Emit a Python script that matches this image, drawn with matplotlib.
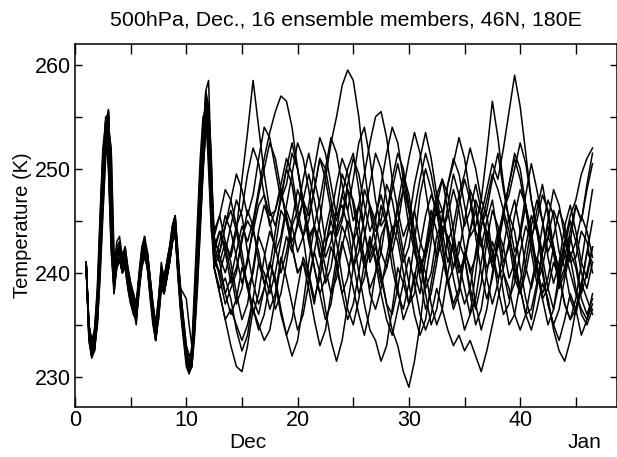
import numpy as np
import matplotlib
matplotlib.use("Agg")
import matplotlib.pyplot as plt
from matplotlib.ticker import MultipleLocator
from matplotlib.transforms import blended_transform_factory

plt.rcParams['font.family'] = ['Liberation Sans', 'DejaVu Sans']

# time axes: early part 6-hourly (day 1.0 .. 12.25), later 12-hourly (day 12.5 .. 46.5)
early_days = np.arange(1.0, 12.5, 0.25)
spread_days = np.arange(12.5, 47.0, 0.5)

# ---- early phase, members still close together ----
e01 = [241, 234, 232, 233.5, 237, 243, 249.5, 254.5, 255.5, 247, 239.5, 242,
       242.5, 241, 242, 240, 238.5, 237.5, 236.5, 239.5, 242, 243, 241.5, 239,
       236.5, 234.5, 237, 240, 239, 240.5, 242, 244, 245, 241, 237.5, 235,
       232.5, 231, 232, 237, 242, 247.5, 252.5, 257, 255.5, 248]
e02 = [240.5, 235, 233, 234, 237.5, 244, 251, 254, 251, 243, 238.5, 240.5,
       241, 242, 240.5, 238.5, 237, 236, 235.5, 238, 240.5, 242, 242, 239.5,
       237, 235, 235.5, 238.5, 239.5, 241, 242.5, 244.5, 245.5, 242, 238, 235,
       231.5, 230.5, 231, 235, 240, 245.5, 251, 257.5, 258.5, 250]
e03 = [241, 233.5, 231.8, 232.5, 235.5, 242.5, 249, 254, 255.7, 248, 238, 241,
       243, 241.5, 242, 239, 237.5, 236.5, 235, 238.5, 242, 243.5, 240.5, 237.5,
       235, 233.5, 236, 239, 238, 239.5, 241, 243, 244, 239.5, 236, 233.5,
       231, 230.3, 232, 237, 242.5, 248, 253, 256.5, 253, 246]
e04 = [240.5, 235, 233.5, 233.5, 235, 240, 246, 251.5, 254.5, 251.5, 241, 242.5,
       241.5, 240, 241, 240, 238.5, 237.5, 236.5, 239.5, 241, 242, 240.5, 238,
       236, 234, 236.5, 239.5, 238.5, 240, 241.5, 243, 244, 240, 236.5, 234,
       232, 231.5, 232.5, 236.5, 241, 246, 250.5, 254.5, 253.5, 246.5]
e05 = [241, 234.5, 232.5, 232.5, 235, 240.5, 247.5, 253, 255, 246.5, 239, 241.5,
       242.5, 240.5, 241, 239.5, 237.5, 236, 235.5, 238.5, 241.5, 242.5, 241, 238.5,
       235.5, 233.5, 236, 239, 238, 239.5, 241, 243, 244.5, 240.5, 237, 234.5,
       231.5, 230.5, 232, 238, 244, 250, 254.5, 256.5, 251, 244.5]
e06 = [241, 234, 232.5, 233.5, 236.5, 242.5, 249, 254, 254.5, 245.5, 240, 243,
       243.5, 241.5, 242.5, 240.5, 239, 238, 237, 240, 242.5, 243.5, 242, 239.5,
       237, 235, 237.5, 240.5, 239.5, 241, 242.5, 244.5, 245.5, 241.5, 238, 235.5,
       233, 232, 232.5, 237.5, 242, 247, 252, 256.5, 255, 247.5]
e07 = [240.5, 234.5, 233, 234.5, 238, 245, 251.5, 253.5, 250, 242.5, 238, 240.5,
       241.5, 240, 241, 239, 237.5, 236.5, 236, 238.5, 241, 242, 240.5, 238,
       236, 234.5, 237, 241, 239.5, 240.5, 241.5, 243, 243.5, 241, 238.5, 238,
       237.5, 235, 233, 236, 240, 245, 250, 253.5, 252.5, 246]
e08 = [241, 235, 233, 233, 236, 242, 248.5, 253.5, 254.5, 246.5, 239.5, 241.5,
       242, 240.5, 241.5, 239.5, 238, 237, 236, 239, 241.5, 242.5, 241, 238.5,
       236, 234, 236.5, 239.5, 238.5, 240, 241.5, 243.5, 244.5, 240.5, 237, 234.5,
       232, 230.8, 231.5, 236, 241, 246.5, 251.5, 256, 254.5, 247]
e09 = [241, 234, 232, 233, 236.5, 243, 250, 255, 254.5, 245, 238.5, 242,
       242, 241, 242, 240, 238, 237, 236.5, 239.5, 242, 243, 241.5, 239,
       236.5, 234.5, 237, 240, 239, 240.5, 242, 244.5, 245.5, 241, 237, 234,
       231.5, 230.3, 231, 235.5, 240.5, 246, 251.5, 257, 256, 248.5]
e10 = [240.5, 234.5, 233, 233, 235, 239.5, 245.5, 251, 254, 252, 242, 241,
       241.5, 240, 240.5, 238.5, 237, 236.5, 236, 238.5, 240.5, 241.5, 240.5, 238,
       235.5, 233.5, 235.5, 238.5, 238, 239.5, 241, 243, 244, 240, 236.5, 234,
       232, 231, 231.5, 234.5, 239, 244.5, 250, 254.5, 255.5, 250.5]
e11 = [241, 233.5, 232, 233.5, 237, 243.5, 249.5, 254, 255.5, 247.5, 240, 242.5,
       243, 241.5, 242.5, 240.5, 239, 238, 237, 239.5, 242, 243, 242, 239.5,
       237, 235, 237.5, 240.5, 239.5, 241, 242.5, 244, 245, 241.5, 238, 235.5,
       233, 232, 232.5, 237, 242, 247.5, 252.5, 256, 255, 248]
e12 = [241, 235, 233.5, 234.5, 238.5, 245.5, 252, 254.5, 250.5, 242, 238.5, 240.5,
       241.5, 240, 241, 239, 237.5, 236.5, 235.5, 238.5, 241, 242.5, 241.5, 239,
       236.5, 234.5, 236, 239, 239, 240.5, 242, 244, 245, 241, 237.5, 234.5,
       231.5, 230.5, 231, 235, 240, 245.5, 250.5, 255, 255.5, 248]
e13 = [240.5, 234, 232.5, 233, 236, 242, 249, 254, 255, 246, 239, 241.5,
       242, 240.5, 241.5, 239.5, 238, 237, 236, 239, 241.5, 242.5, 241, 238.5,
       236, 234, 236.5, 239.5, 238.5, 240, 241.5, 243.5, 244.5, 240.5, 237, 234.5,
       232, 231, 233, 239, 245, 251, 255, 255.5, 250, 244]
e14 = [241, 234.5, 233, 234, 237, 242.5, 248.5, 253, 253.5, 245.5, 238.5, 241,
       241.5, 240, 241, 239, 237.5, 236.5, 236, 238.5, 241, 242, 240.5, 238,
       235.5, 233.5, 236, 239, 238, 239.5, 241, 243, 244, 240, 236.5, 234,
       231.5, 230.5, 231, 234, 238.5, 244, 249.5, 254, 256, 251]
e15 = [241, 234, 232.5, 233, 236, 241.5, 248, 253.5, 255, 247, 240, 242,
       242.5, 241, 242, 240, 238.5, 237.5, 236.5, 239.5, 242, 243, 241.5, 239,
       236.5, 234.5, 237, 240, 239, 240.5, 242, 244, 245, 241, 237.5, 235,
       232.5, 231.5, 232, 236.5, 241, 246, 251, 255, 254, 246.5]
e16 = [240.5, 234.5, 232, 232.5, 235.5, 242, 249, 254.5, 255.5, 247, 239.5, 241.5,
       242, 240.5, 241.5, 239.5, 238, 237, 236, 239, 241.5, 242.5, 241, 238.5,
       236, 234, 236.5, 239.5, 238.5, 240, 241.5, 243.5, 244.5, 240.5, 237, 234.5,
       231.5, 230.5, 231.5, 236.5, 241.5, 247, 252.5, 257.5, 256, 248]

# ---- spread phase ----
s01 = [242, 239.5, 237, 238.5, 240, 243.5, 245, 244, 246.5, 247.5,
       245.5, 246, 248, 245, 242.5, 240, 241, 239.5, 242, 245,
       249, 252.5, 255, 258, 259.5, 258.5, 255, 250, 246, 243,
       239.5, 237, 236, 238.5, 242, 244.5, 246, 243, 241.5, 244,
       247.5, 249, 246, 242.5, 240, 241.5, 238.5, 236.5, 239, 243,
       246, 244.5, 241, 242.5, 245.5, 248, 246.5, 242, 239, 240.5,
       243.5, 242, 238.5, 240, 243, 246.5, 245, 248, 250.5]
s02 = [244, 245.5, 243, 241.5, 244, 249, 253.5, 258.5, 254, 249.5,
       246, 244.5, 247, 250, 248.5, 245, 243.5, 239.5, 237, 240.5,
       244, 246.5, 245, 247.5, 250, 251.5, 248, 244, 241.5, 243,
       246.5, 244.5, 240.5, 238, 236.5, 239, 243, 247.5, 250, 248,
       245.5, 246, 242.5, 239.5, 237, 234.5, 236, 240, 244.5, 246,
       249, 251.5, 248, 245, 247, 244, 240.5, 238.5, 241, 244.5,
       247, 245.5, 242, 240.5, 237.5, 236, 238.5, 242, 241]
s03 = [241.5, 240, 238, 239.5, 242, 244.5, 243, 245, 248, 251,
       253.5, 255.5, 257, 256.5, 254, 250, 246.5, 243.5, 244.5, 242,
       239, 240.5, 244, 247.5, 246, 249, 252.5, 254, 251, 247,
       244.5, 245.5, 249, 251.5, 250, 246.5, 243, 241.5, 238.5, 240,
       243.5, 245, 248.5, 250.5, 253, 251, 247.5, 244, 242.5, 245,
       247, 243.5, 240, 237.5, 239, 242, 244.5, 243, 246, 248.5,
       245.5, 242, 240.5, 243, 245.5, 247, 249.5, 251, 252]
s04 = [243, 242, 244.5, 246, 244, 241, 238.5, 240, 243.5, 242,
       239, 236.5, 238, 241, 244.5, 246, 249, 251.5, 249, 246.5,
       243, 244, 240.5, 238, 239.5, 243, 246.5, 244, 241, 242.5,
       240, 237, 234.5, 233, 230.5, 229, 231.5, 235, 239.5, 243,
       246.5, 249, 247.5, 244, 240.5, 241, 244, 246, 243, 239.5,
       237, 239, 242.5, 245.5, 244, 240.5, 237.5, 235.5, 238.5, 242,
       244.5, 242, 239, 240.5, 243.5, 241, 238, 240, 242.5]
s05 = [240.5, 238, 235.5, 233, 231, 230.5, 233, 236.5, 235, 233.5,
       234.5, 237.5, 241, 243.5, 242, 245, 247, 244, 240.5, 238,
       235.5, 237, 240.5, 243, 241, 238.5, 236, 234, 236.5, 240,
       243.5, 245, 242, 238.5, 235.5, 237, 240, 238, 241.5, 244.5,
       246, 243, 239.5, 237, 238.5, 242, 240.5, 237, 234.5, 236.5,
       240, 243.5, 246, 244, 240.5, 238, 240, 243, 241, 237.5,
       235, 236.5, 240, 243, 241.5, 238.5, 236, 235, 236.5]
s06 = [242.5, 244, 242, 239, 240.5, 243, 246, 244.5, 241, 239,
       240.5, 244, 247.5, 250, 252.5, 250, 247, 245.5, 248, 251,
       249, 246, 243.5, 245, 248, 247, 244.5, 241, 238.5, 240,
       242, 245.5, 248, 250.5, 248, 244.5, 242, 240, 242.5, 246,
       244, 241.5, 239, 236.5, 238, 241.5, 244, 247, 245.5, 248,
       250.5, 249, 252, 255.5, 259, 256, 251.5, 247, 244, 241.5,
       238.5, 236.5, 239, 242.5, 245, 243, 240, 238.5, 241]
s07 = [240.5, 238, 235.5, 236.5, 235, 233.5, 235, 237.5, 236, 238.5,
       241, 239, 236, 234, 235.5, 238.5, 241.5, 240, 237.5, 239.5,
       242.5, 245, 243, 239.5, 236.5, 235, 237.5, 241, 243.5, 241,
       238, 235.5, 234, 236.5, 239, 241.5, 239, 236, 234.5, 236,
       238.5, 236.5, 234.5, 233, 234, 232.5, 233.5, 232, 230.5, 232.5,
       235, 237.5, 240, 238.5, 236, 234.5, 236, 239, 241.5, 240,
       237, 235, 233.5, 235.5, 238, 236.5, 234, 235.5, 238]
s08 = [241, 243, 245.5, 244, 241.5, 239, 241, 244.5, 247.5, 250,
       252.5, 251, 248, 245.5, 243, 244.5, 247, 249.5, 247, 244,
       241.5, 243, 246, 249.5, 248, 245, 246.5, 249.5, 252.5, 255,
       255.5, 253, 249, 246, 243.5, 245, 248.5, 251, 253.5, 251,
       247.5, 244, 241, 243, 246.5, 249, 247, 243.5, 240, 237.5,
       239.5, 243, 245.5, 243, 239.5, 238, 241, 244.5, 247, 245,
       241.5, 239, 241, 244.5, 246.5, 244, 241, 239.5, 242.5]
s09 = [243.5, 241.5, 240, 242, 244.5, 242, 238.5, 236, 238, 241.5,
       244, 242.5, 240, 242, 245, 248, 246.5, 243, 240.5, 238,
       239.5, 242.5, 241, 238, 235.5, 237, 240, 243.5, 246.5, 245,
       242, 240.5, 243, 246, 248, 246, 242.5, 240, 242, 245,
       247.5, 246, 243, 244.5, 247.5, 249.5, 252, 250, 247, 251.5,
       256.5, 253, 248.5, 245, 242, 243.5, 246.5, 244, 240.5, 238,
       239.5, 242.5, 240, 237, 235.5, 237.5, 241, 244.5, 248]
s10 = [242, 244, 242.5, 240, 237, 238.5, 241.5, 244, 242, 239,
       236.5, 238, 241.5, 239.5, 237, 234.5, 236, 239, 242, 240,
       236.5, 233.5, 231.5, 233.5, 237, 240.5, 243.5, 241.5, 238, 236.5,
       238.5, 241.5, 244.5, 243, 240, 237, 238, 241.5, 240, 237,
       235, 236.5, 240, 243, 241, 238.5, 236, 237.5, 241, 244,
       242, 238.5, 236, 237, 240.5, 238.5, 236, 234.5, 236.5, 239,
       237.5, 234.5, 232.5, 231.5, 233.5, 236.5, 239, 237.5, 236]
s11 = [243.5, 245.5, 248, 247, 244.5, 246, 249.5, 252, 250.5, 247.5,
       244.5, 246, 248.5, 251, 249.5, 246, 243.5, 245, 248, 251,
       250, 247, 244, 245.5, 248.5, 251, 249.5, 246.5, 244, 245.5,
       247.5, 245, 242, 244.5, 248, 251, 253.5, 251.5, 248, 244.5,
       241.5, 243, 246.5, 249.5, 247.5, 244.5, 246, 248.5, 246, 243,
       240.5, 242.5, 246, 248.5, 251, 249, 246, 243.5, 245, 247.5,
       246, 242.5, 240, 241.5, 244, 246.5, 245, 248.5, 251.5]
s12 = [241, 240, 242, 244.5, 247, 245.5, 242, 239, 237, 238.5,
       241, 239.5, 236.5, 234, 232, 233.5, 237, 241, 244.5, 243,
       240.5, 238, 239.5, 242.5, 245, 243.5, 240, 237, 234.5, 233.5,
       231.5, 233, 236.5, 240.5, 239, 237, 239.5, 242.5, 245.5, 247.5,
       246, 242.5, 239, 240.5, 243, 241.5, 238, 235, 236.5, 240,
       243, 241.5, 238, 235, 236, 239, 242.5, 245.5, 244, 240.5,
       237, 235, 236.5, 239.5, 242, 240.5, 237.5, 236, 237.5]
s13 = [242, 241, 243, 241, 238, 235.5, 237, 240.5, 244, 246.5,
       245, 242, 243.5, 246.5, 249.5, 252.5, 251, 248, 244.5, 241.5,
       242.5, 245.5, 248.5, 251, 249.5, 246.5, 243, 240.5, 242, 245,
       248.5, 251.5, 254, 252.5, 249, 246, 243, 239.5, 236.5, 238,
       241, 244.5, 243.5, 240.5, 242, 245, 248, 246.5, 243, 240.5,
       241.5, 244, 242.5, 239.5, 241, 244, 247.5, 250.5, 248, 245,
       242, 243.5, 246, 244.5, 241.5, 243, 245.5, 244, 241.5]
s14 = [240.5, 238.5, 239.5, 237.5, 234.5, 232.5, 234, 237.5, 241, 240,
       238, 240, 243, 246, 244.5, 242, 243.5, 246.5, 250, 253,
       251.5, 248.5, 245.5, 246.5, 244.5, 241, 238, 239.5, 243, 241.5,
       239, 240.5, 243.5, 246.5, 249.5, 247.5, 244, 241, 238, 235,
       236.5, 240, 243.5, 242, 239, 237, 238.5, 242, 245.5, 244,
       241, 242.5, 245.5, 248.5, 251.5, 250, 246.5, 243, 240, 237.5,
       238.5, 241, 239.5, 237, 235.5, 236.5, 239, 242, 245]
s15 = [242.5, 241, 238, 236, 237.5, 240.5, 239, 236.5, 234.5, 236,
       239, 242.5, 246, 245, 242.5, 240, 241, 238.5, 235.5, 233,
       234.5, 238, 241.5, 244.5, 243, 240.5, 242, 245.5, 248.5, 251.5,
       250, 247, 244, 245, 242, 239, 236, 234, 235.5, 239,
       242, 245.5, 248.5, 251, 249.5, 246.5, 243.5, 244.5, 247, 245.5,
       242, 239.5, 240.5, 243, 241.5, 238.5, 236, 236.5, 239, 242,
       245, 248, 246.5, 243.5, 241, 241.5, 244, 243, 240]
s16 = [240.5, 242, 244.5, 247, 249.5, 248, 245.5, 247.5, 251, 254,
       253, 250, 247, 248.5, 251.5, 250, 246.5, 243, 244.5, 247,
       250, 253, 251.5, 248.5, 246, 243, 244.5, 248, 246.5, 244,
       245, 248.5, 247, 244, 241, 242.5, 246, 249, 251.5, 249.5,
       246.5, 244, 245.5, 248, 246, 242.5, 240, 241.5, 244.5, 247,
       249.5, 248, 246, 247.5, 250, 252.5, 250.5, 247, 244.5, 242,
       243.5, 246, 244.5, 242, 240, 238, 236.5, 235.5, 237]

early = [e01, e02, e03, e04, e05, e06, e07, e08, e09, e10, e11, e12, e13, e14, e15, e16]
spread = [s01, s02, s03, s04, s05, s06, s07, s08, s09, s10, s11, s12, s13, s14, s15, s16]

days = np.concatenate([early_days, spread_days])

fig = plt.figure(figsize=(6.17, 4.57), dpi=100)
ax = fig.add_axes([0.1216, 0.1094, 0.8784, 0.7943])

for e, s in zip(early, spread):
    ax.plot(days, e + s, color="black", lw=1.1)

ax.set_xlim(0, 48.7)
ax.set_ylim(227.1, 262.0)
ax.xaxis.set_major_locator(MultipleLocator(10))
ax.xaxis.set_minor_locator(MultipleLocator(5))
ax.yaxis.set_major_locator(MultipleLocator(10))
ax.yaxis.set_minor_locator(MultipleLocator(5))
ax.tick_params(which="both", direction="in", top=True, right=True, labelsize=15.5,
               width=1.0, color="black")
ax.tick_params(axis="x", which="both", length=7, pad=2)
ax.tick_params(axis="y", which="both", length=5, pad=3)
for sp in ax.spines.values():
    sp.set_linewidth(1.1)

ax.set_ylabel("Temperature (K)", fontsize=14.5, labelpad=2)
ax.set_title("500hPa, Dec., 16 ensemble members, 46N, 180E", fontsize=15.4, pad=13)

tr = blended_transform_factory(ax.transData, ax.transAxes)
ax.text(15.55, -0.097, "Dec", transform=tr, ha="center", va="center", fontsize=15)
ax.text(45.8, -0.097, "Jan", transform=tr, ha="center", va="center", fontsize=15)

fig.savefig("out.png", dpi=100)
